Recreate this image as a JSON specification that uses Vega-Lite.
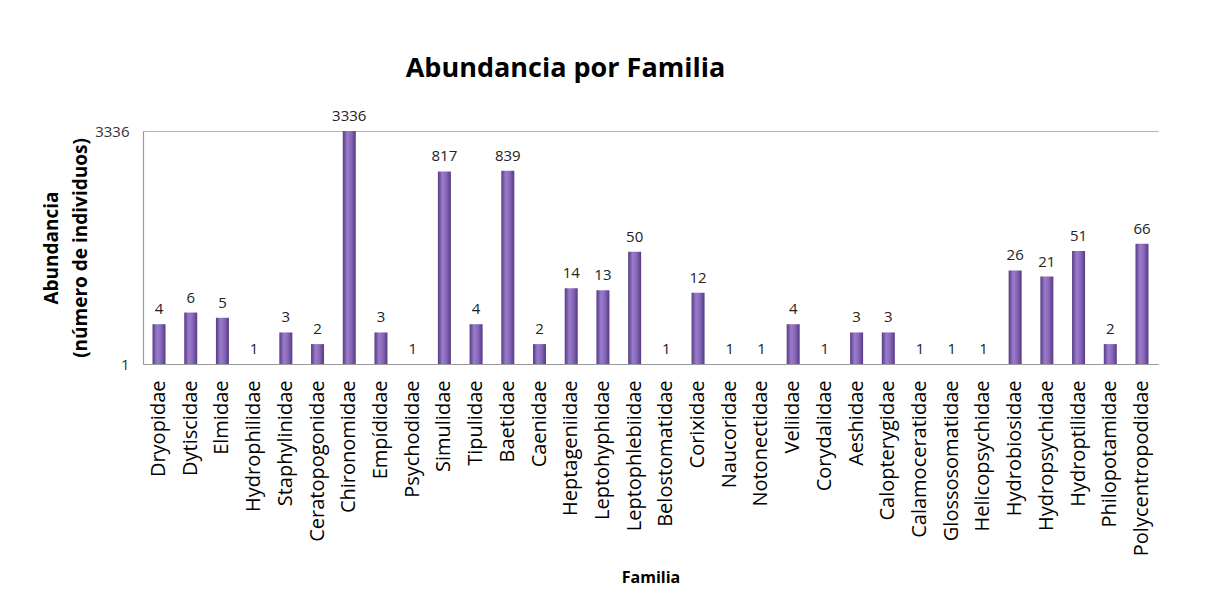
{
  "$schema": "https://vega.github.io/schema/vega-lite/v6.json",
  "width": 1015,
  "height": 233,
  "autosize": {"type": "none"},
  "padding": {"left": 143, "top": 131, "right": 50, "bottom": 239},
  "background": "white",
  "title": {
    "text": "Abundancia por Familia",
    "font": "Open Sans",
    "fontSize": 27,
    "fontWeight": "bold",
    "color": "#000000",
    "anchor": "middle",
    "dx": -85,
    "offset": 26
  },
  "data": {
    "values": [
      {"familia": "Dryopidae", "abundancia": 4},
      {"familia": "Dytiscidae", "abundancia": 6},
      {"familia": "Elmidae", "abundancia": 5},
      {"familia": "Hydrophilidae", "abundancia": 1},
      {"familia": "Staphylinidae", "abundancia": 3},
      {"familia": "Ceratopogonidae", "abundancia": 2},
      {"familia": "Chironomidae", "abundancia": 3336},
      {"familia": "Empídidae", "abundancia": 3},
      {"familia": "Psychodidae", "abundancia": 1},
      {"familia": "Simulidae", "abundancia": 817},
      {"familia": "Tipulidae", "abundancia": 4},
      {"familia": "Baetidae", "abundancia": 839},
      {"familia": "Caenidae", "abundancia": 2},
      {"familia": "Heptageniidae", "abundancia": 14},
      {"familia": "Leptohyphidae", "abundancia": 13},
      {"familia": "Leptophlebiidae", "abundancia": 50},
      {"familia": "Belostomatidae", "abundancia": 1},
      {"familia": "Corixidae", "abundancia": 12},
      {"familia": "Naucoridae", "abundancia": 1},
      {"familia": "Notonectidae", "abundancia": 1},
      {"familia": "Veliidae", "abundancia": 4},
      {"familia": "Corydalidae", "abundancia": 1},
      {"familia": "Aeshidae", "abundancia": 3},
      {"familia": "Calopterygidae", "abundancia": 3},
      {"familia": "Calamoceratidae", "abundancia": 1},
      {"familia": "Glossosomatidae", "abundancia": 1},
      {"familia": "Helicopsychidae", "abundancia": 1},
      {"familia": "Hydrobiosidae", "abundancia": 26},
      {"familia": "Hydropsychidae", "abundancia": 21},
      {"familia": "Hydroptilidae", "abundancia": 51},
      {"familia": "Philopotamidae", "abundancia": 2},
      {"familia": "Polycentropodidae", "abundancia": 66}
    ]
  },
  "encoding": {
    "x": {
      "field": "familia",
      "type": "nominal",
      "sort": null,
      "scale": {"paddingInner": 0.59, "paddingOuter": 0.3},
      "axis": {
        "title": "Familia",
        "titleFont": "Open Sans",
        "titleFontSize": 16,
        "titleFontWeight": "bold",
        "titleColor": "#000000",
        "titlePadding": 14,
        "labelAngle": -90,
        "labelFont": "Open Sans",
        "labelFontSize": 20,
        "labelColor": "#000000",
        "labelPadding": 16,
        "ticks": false,
        "domainColor": "#9a9a9a",
        "domainWidth": 1.2,
        "grid": false
      }
    },
    "y": {
      "field": "abundancia",
      "type": "quantitative",
      "scale": {"type": "log", "domain": [1, 3336], "nice": false},
      "axis": {
        "title": ["Abundancia", "(número de individuos)"],
        "titleFont": "Open Sans",
        "titleFontSize": 19,
        "titleFontWeight": "bold",
        "titleColor": "#000000",
        "titlePadding": 4,
        "titleLineHeight": 29,
        "values": [1, 3336],
        "format": "d",
        "labelFont": "Open Sans",
        "labelFontSize": 15,
        "labelColor": "#333333",
        "labelPadding": 14,
        "ticks": false,
        "domainColor": "#9a9a9a",
        "domainWidth": 1.2,
        "grid": true,
        "gridColor": "#b5b5b5",
        "gridWidth": 1.2
      }
    }
  },
  "layer": [
    {
      "mark": {
        "type": "bar",
        "fill": {
          "gradient": "linear",
          "x1": 0, "x2": 1, "y1": 0, "y2": 0,
          "stops": [
            {"offset": 0, "color": "#563a84"},
            {"offset": 0.35, "color": "#9a7ccc"},
            {"offset": 0.65, "color": "#8667b8"},
            {"offset": 1, "color": "#563a84"}
          ]
        }
      },
      "encoding": {"y2": {"datum": 1}}
    },
    {
      "mark": {
        "type": "text",
        "baseline": "bottom",
        "dy": -7,
        "font": "Open Sans",
        "fontSize": 15,
        "color": "#222222"
      },
      "encoding": {"text": {"field": "abundancia", "type": "quantitative"}}
    }
  ],
  "config": {
    "view": {"stroke": null}
  }
}
